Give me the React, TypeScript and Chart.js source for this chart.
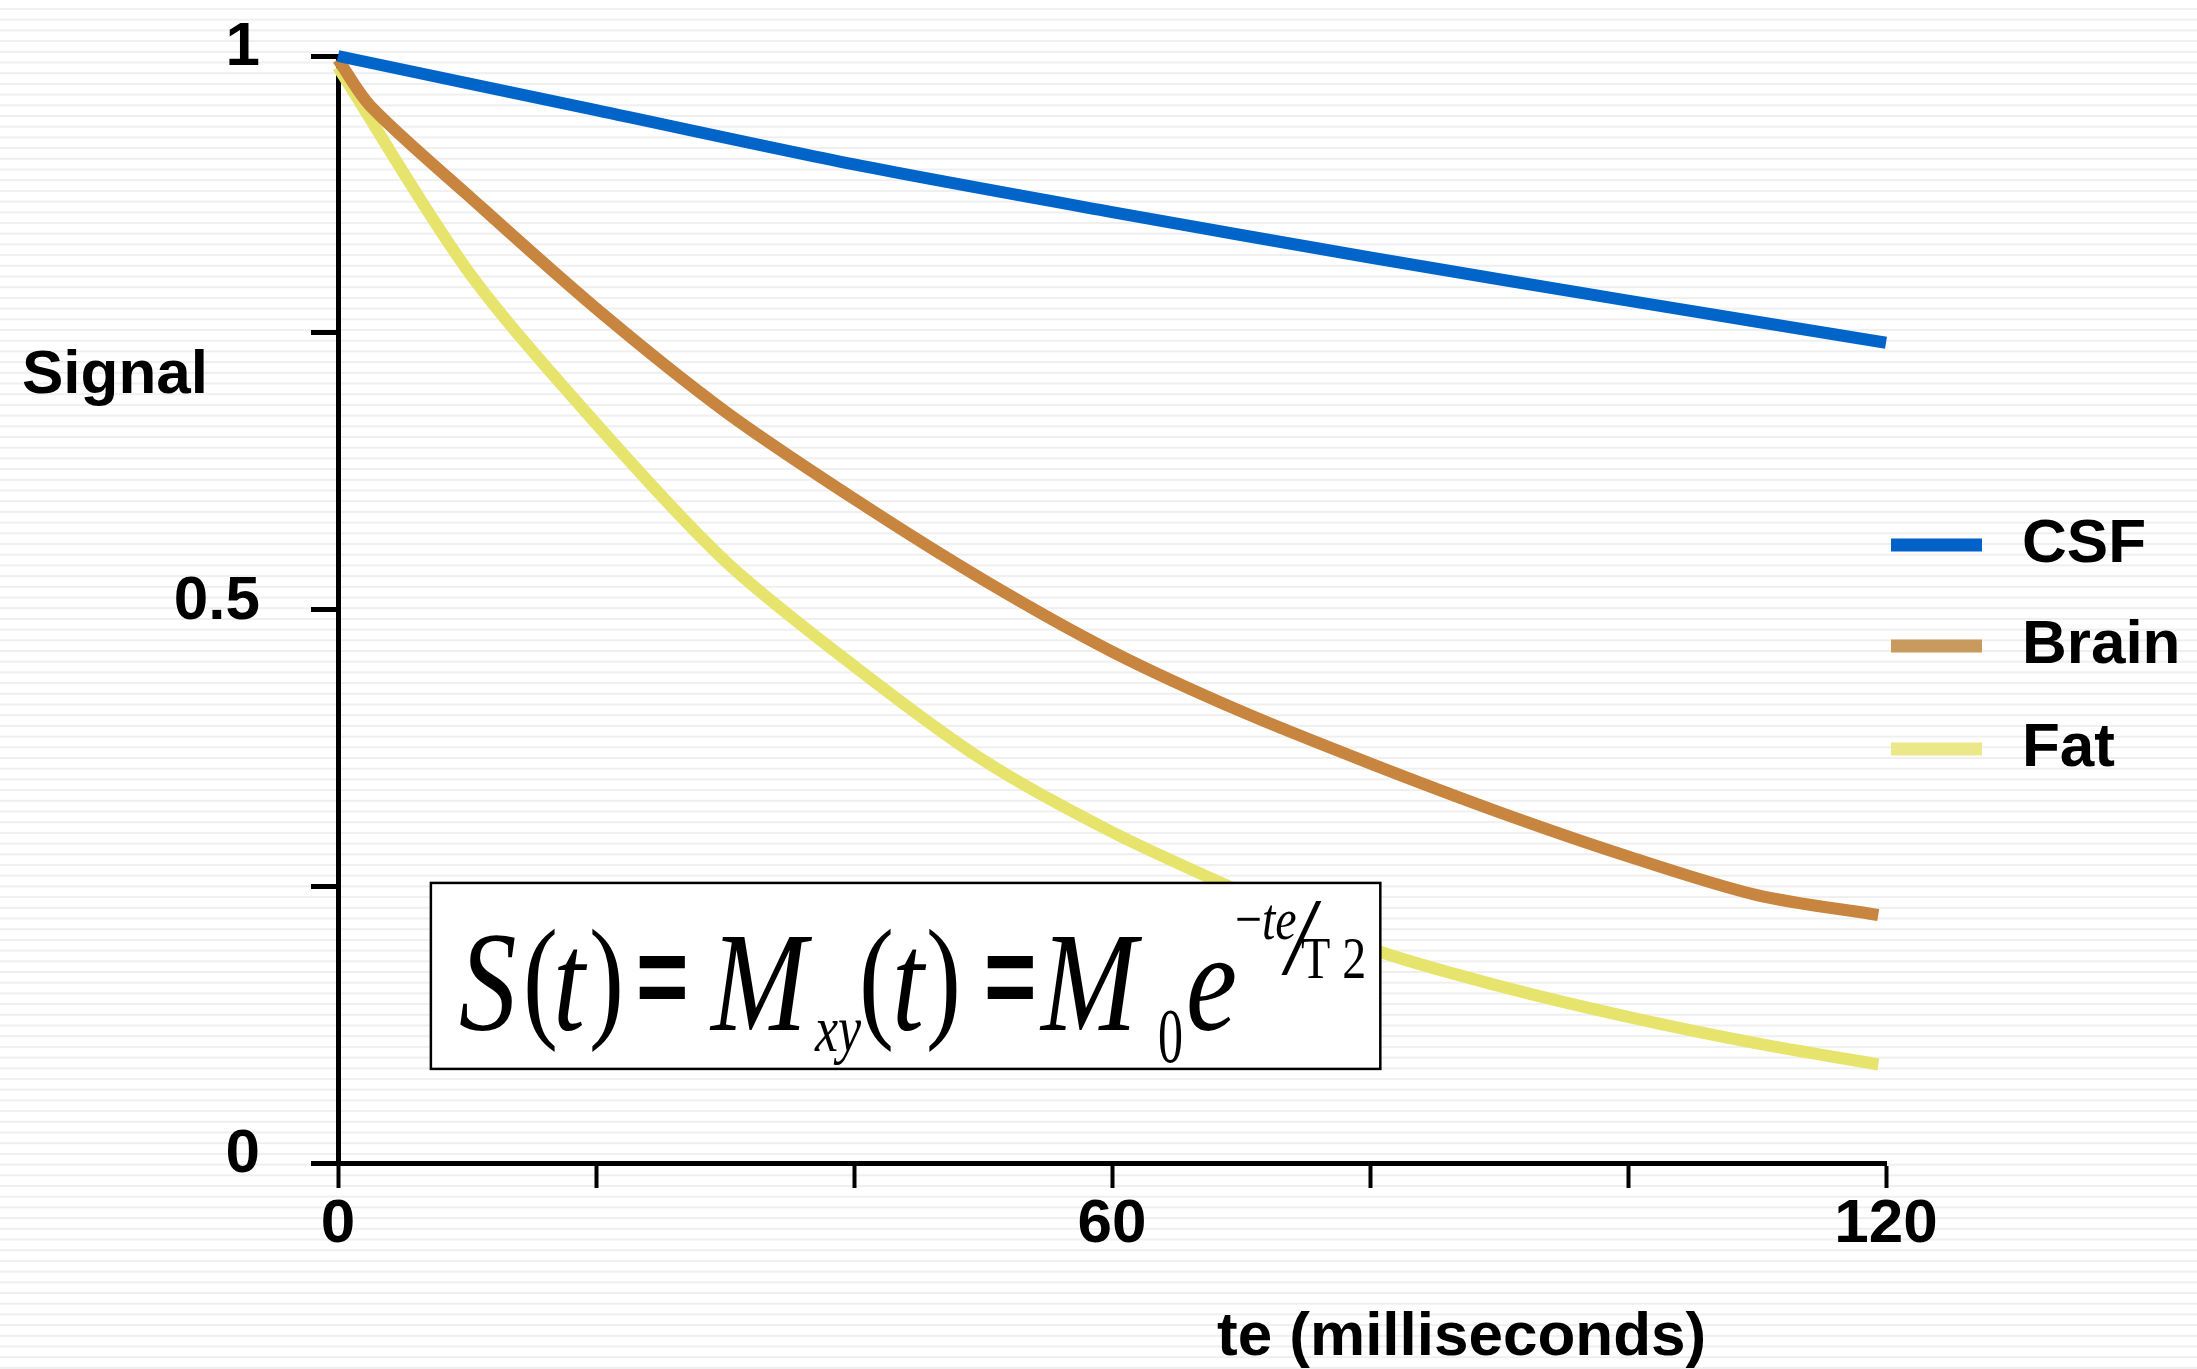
import React, { useEffect, useRef } from 'react';
import { Chart, registerables } from 'chart.js';

Chart.register(...registerables);

// ---- Data ----
const seriesLabels = ['CSF', 'Brain', 'Fat'];

const csfTimes = [0, 20, 40, 60, 80, 100, 120];
const csfSignal = [1.0, 0.951, 0.902, 0.859, 0.818, 0.779, 0.741];

const brainTimes = [0, 2.5, 10, 20, 30, 40, 50, 60, 70, 80, 90, 100, 110, 119.4];
const brainSignal = [0.997, 0.955, 0.875, 0.772, 0.679, 0.6, 0.527, 0.462, 0.408, 0.361, 0.317, 0.277, 0.242, 0.224];

const fatTimes = [0, 10, 20, 30, 40, 50, 60, 70, 80, 90, 100, 110, 119.4];
const fatSignal = [0.99, 0.807, 0.668, 0.544, 0.449, 0.364, 0.299, 0.245, 0.194, 0.16, 0.132, 0.108, 0.089];

const xLabeledTicks = [0, 60, 120];
const yLabeledTicks = [0, 0.5, 1];

const lineColors = ['#0064C8', '#C8853F', '#E6E46C'];
const legendColors = ['#0062C9', '#C89A5E', '#EBE88A'];

// formula box extent in data units (te ms, signal)
const boxTe = [7.2, 80.8];
const boxSignal = [0.253, 0.085];

const FONT = '"Liberation Sans", Arial, Helvetica, sans-serif';
const SERIF = '"Liberation Serif", "Times New Roman", Times, serif';

const toPoints = (xs: number[], ys: number[]) => xs.map((x, i) => ({ x, y: ys[i] }));

const stripesPlugin = {
  id: 'stripes',
  beforeDraw(chart: any) {
    const { ctx, width, height } = chart;
    ctx.save();
    ctx.fillStyle = '#ffffff';
    ctx.fillRect(0, 0, width, height);
    ctx.fillStyle = '#efefef';
    for (let y = 8; y < height; y += 10.7) {
      ctx.fillRect(0, y, width, 2);
    }
    ctx.restore();
  },
};

const piece = (ctx: CanvasRenderingContext2D, text: string, x: number, y: number, font: string, sy: number) => {
  ctx.save();
  ctx.translate(x, y);
  ctx.scale(1, sy);
  ctx.font = font;
  ctx.fillText(text, 0, 0);
  ctx.restore();
};

const overlayPlugin = {
  id: 'overlay',
  afterDatasetsDraw(chart: any) {
    const { ctx, chartArea, scales } = chart;
    const xs = scales.x;
    const ys = scales.y;
    ctx.save();

    // Formula box
    const bx = xs.getPixelForValue(boxTe[0]);
    const bx2 = xs.getPixelForValue(boxTe[1]);
    const by = ys.getPixelForValue(boxSignal[0]);
    const by2 = ys.getPixelForValue(boxSignal[1]);
    ctx.fillStyle = '#ffffff';
    ctx.fillRect(bx, by, bx2 - bx, by2 - by);
    ctx.strokeStyle = '#000';
    ctx.lineWidth = 2.5;
    ctx.strokeRect(bx, by, bx2 - bx, by2 - by);

    ctx.fillStyle = '#000';
    ctx.textAlign = 'left';
    ctx.textBaseline = 'alphabetic';
    const it = `italic 115px ${SERIF}`;
    const up = `105px ${SERIF}`;
    const eq = `bold 90px ${FONT}`;
    const s = 1.23;
    const b = by + 147;
    piece(ctx, 'S', bx + 28, b, it, s);
    piece(ctx, '(', bx + 92, by + 140, up, 1.3);
    piece(ctx, 't', bx + 122, b, it, s);
    piece(ctx, ')', bx + 158, by + 140, up, 1.3);
    piece(ctx, '=', bx + 205, by + 132, eq, 1.25);
    piece(ctx, 'M', bx + 280, b, it, s);
    piece(ctx, 'xy', bx + 384, by + 168, `italic 52px ${SERIF}`, 1.25);
    piece(ctx, '(', bx + 428, by + 140, up, 1.3);
    piece(ctx, 't', bx + 461, b, it, s);
    piece(ctx, ')', bx + 495, by + 140, up, 1.3);
    piece(ctx, '=', bx + 553, by + 132, eq, 1.25);
    piece(ctx, 'M', bx + 610, b, it, s);
    piece(ctx, '0', bx + 727, by + 179, `50px ${SERIF}`, 1.55);
    piece(ctx, 'e', bx + 755, b, it, s);
    piece(ctx, '\u2212', bx + 804, by + 56, `48px ${SERIF}`, 1.25);
    piece(ctx, 'te', bx + 831, by + 56, `italic 48px ${SERIF}`, 1.25);
    piece(ctx, '/', bx + 855, by + 91, `italic 100px ${SERIF}`, 1.1);
    piece(ctx, 'T 2', bx + 870, by + 95, `48px ${SERIF}`, 1.23);

    // Axis titles
    ctx.font = `bold 62px ${FONT}`;
    ctx.fillText('Signal', 22, 393);
    ctx.fillText('te (milliseconds)', 1217, 1355);

    // Legend
    const lx = chartArea.right + 5;
    const centers = [545, 646, 749];
    seriesLabels.forEach((label, i) => {
      ctx.fillStyle = legendColors[i];
      ctx.fillRect(lx, centers[i] - 6.5, 91, 13);
      ctx.fillStyle = '#000';
      ctx.font = `bold 62px ${FONT}`;
      ctx.fillText(label, chartArea.right + 136, centers[i] + 17);
    });
    ctx.restore();
  },
};

export default function App() {
  const canvasRef = useRef<HTMLCanvasElement | null>(null);

  useEffect(() => {
    document.body.style.margin = '0';
    const canvas = canvasRef.current;
    if (!canvas) return;
    Chart.defaults.font.family = FONT;
    const chart = new Chart(canvas, {
      type: 'line',
      data: {
        datasets: [
          { label: seriesLabels[0], data: toPoints(csfTimes, csfSignal), borderColor: lineColors[0] },
          { label: seriesLabels[1], data: toPoints(brainTimes, brainSignal), borderColor: lineColors[1] },
          { label: seriesLabels[2], data: toPoints(fatTimes, fatSignal), borderColor: lineColors[2] },
        ].map((d) => ({
          ...d,
          borderWidth: 12,
          pointRadius: 0,
          fill: false,
          tension: 0.3,
          borderCapStyle: 'butt' as const,
          borderJoinStyle: 'round' as const,
          clip: false as any,
        })),
      },
      options: {
        responsive: false,
        animation: false,
        devicePixelRatio: 1,
        layout: { autoPadding: false, padding: { left: 0, right: 311, top: 56, bottom: 0 } },
        plugins: { legend: { display: false }, tooltip: { enabled: false }, title: { display: false } },
        scales: {
          x: {
            type: 'linear',
            min: 0,
            max: 120,
            ticks: {
              stepSize: 20,
              autoSkip: false,
              maxRotation: 0,
              color: '#000',
              padding: 0,
              font: { size: 62, weight: 'bold' },
              callback: (v: any) => (xLabeledTicks.includes(Number(v)) ? String(v) : ''),
            },
            grid: { drawOnChartArea: false, drawTicks: true, tickLength: 25, tickWidth: 4, tickColor: '#000' },
            border: { display: true, color: '#000', width: 5 },
            afterFit: (s: any) => {
              s.height = 206;
              s.paddingLeft = 0;
              s.paddingRight = 0;
            },
          },
          y: {
            type: 'linear',
            min: 0,
            max: 1,
            ticks: {
              stepSize: 0.25,
              autoSkip: false,
              color: '#000',
              padding: 51,
              labelOffset: -8,
              font: { size: 62, weight: 'bold' },
              callback: (v: any) => (yLabeledTicks.includes(Number(v)) ? String(v) : ''),
            },
            grid: { drawOnChartArea: false, drawTicks: true, tickLength: 27, tickWidth: 5, tickColor: '#000' },
            border: { display: true, color: '#000', width: 5 },
            afterFit: (s: any) => {
              s.width = 338;
              s.paddingTop = 0;
              s.paddingBottom = 0;
            },
          },
        },
      },
      plugins: [stripesPlugin, overlayPlugin],
    });
    return () => chart.destroy();
  }, []);

  return (
    <div style={{ width: 2197, height: 1369 }}>
      <canvas ref={canvasRef} width={2197} height={1369} style={{ width: 2197, height: 1369, display: 'block' }} />
    </div>
  );
}
